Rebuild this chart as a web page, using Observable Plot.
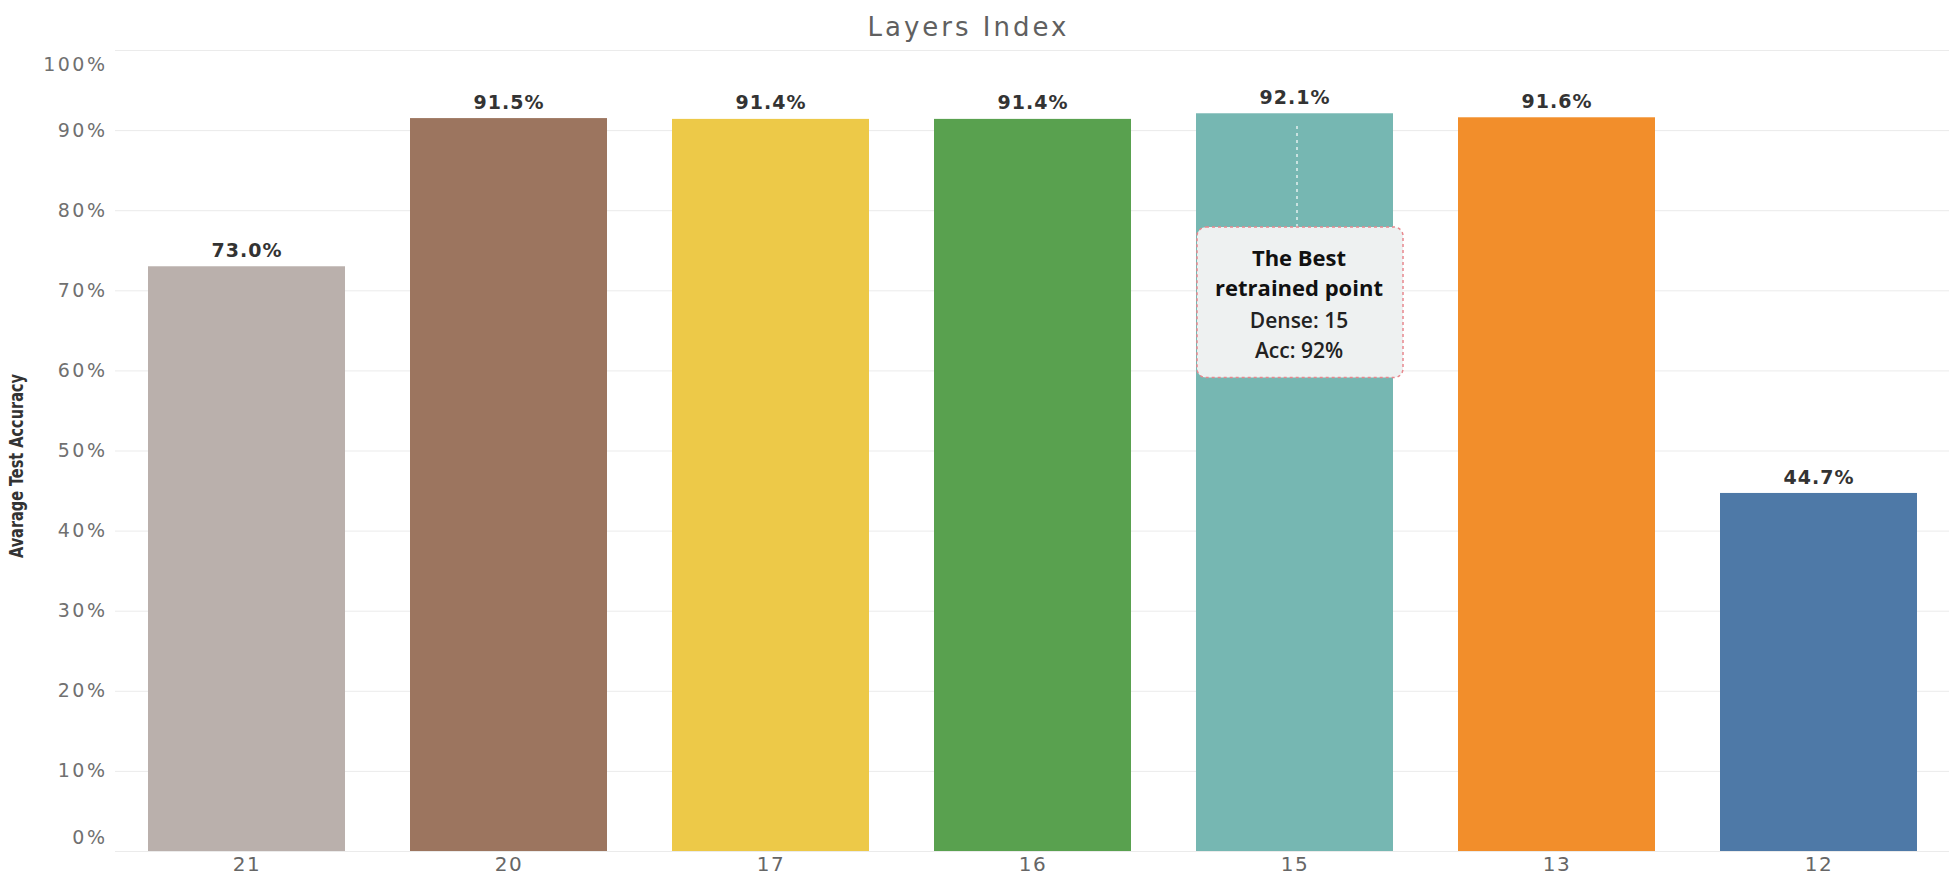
<!DOCTYPE html>
<html><head><meta charset="utf-8">
<script src="https://cdn.jsdelivr.net/npm/d3@7"></script>
<script src="https://cdn.jsdelivr.net/npm/@observablehq/plot@0.6"></script>
<style>
body{margin:0;background:#fff;}
g[aria-description="ytick"] text{letter-spacing:2.5px;}
g[aria-description="xtick"] text{letter-spacing:1.5px;}
g[aria-description="value"] text{letter-spacing:1px;}
g[aria-description="title"] text{letter-spacing:3px;}
</style></head><body><div id="chart"></div>
<script>
const layers = ["21", "20", "17", "16", "15", "13", "12"];
const accuracy = [73.0, 91.5, 91.4, 91.4, 92.1, 91.6, 44.7];
const colors = ["#bab0ac", "#9c755f", "#edc948", "#59a14f", "#76b7b2", "#f28e2b", "#4e79a7"];
const yTicks = [0, 10, 20, 30, 40, 50, 60, 70, 80, 90, 100];
const title = "Layers Index";
const yLabel = "Avarage Test Accuracy";
const bestLayer = "15";
const noteBoldLines = "The Best\nretrained point";
const noteLines = "Dense: 15\nAcc: 92%";
const noteBoxRange = [59.1, 77.9];
const leaderRange = [77.9, 90.5];
const noteBoldY = [72.4];
const noteY = [64.7];

const data = layers.map((l, i) => ({layer: l, acc: accuracy[i]}));

const chart = Plot.plot({
  width: 1950,
  height: 883,
  marginTop: 50,
  marginBottom: 32,
  marginLeft: 115,
  marginRight: 1,
  style: {fontFamily: "'DejaVu Sans', sans-serif", background: "#fff", overflow: "visible"},
  x: {domain: layers, paddingInner: 0.25, paddingOuter: 0.125, label: null, axis: null},
  y: {domain: [0, 100], label: null, axis: null},
  color: {domain: layers, range: colors},
  marks: [
    Plot.gridY(yTicks, {stroke: "#ebebeb", strokeOpacity: 1}),
    Plot.barY(data, {x: "layer", y: "acc", fill: "layer"}),
    Plot.text(data, {x: "layer", y: "acc", text: d => d.acc.toFixed(1) + "%", dy: -16, fontSize: 19, fontWeight: "bold", fill: "#333", ariaDescription: "value"}),
    Plot.ruleX([bestLayer], {x: d => d, y1: leaderRange[0], y2: leaderRange[1], stroke: "#fff", strokeWidth: 1.2, strokeDasharray: "3,4", dx: 2}),
    Plot.barY([bestLayer], {x: d => d, y1: noteBoxRange[0], y2: noteBoxRange[1], fill: "#eef1f1", stroke: "#e8888e", strokeWidth: 1.5, strokeDasharray: "3,3", rx: 9, insetLeft: 1, insetRight: -10}),
    Plot.text([bestLayer], {x: d => d, y: noteBoldY[0], text: () => noteBoldLines, fontSize: 22, fontWeight: "bold", lineHeight: 1.36, fill: "#111", fontFamily: "'Open Sans', sans-serif", dx: 4}),
    Plot.text([bestLayer], {x: d => d, y: noteY[0], text: () => noteLines, fontSize: 21, fontWeight: 600, lineHeight: 1.42, fill: "#222", fontFamily: "'Open Sans', sans-serif", dx: 4}),
    Plot.text(yTicks.filter(t => t > 0 && t < 100), {y: d => d, text: d => d + "%", frameAnchor: "left", textAnchor: "end", dx: -8, fontSize: 19, fill: "#707070", ariaDescription: "ytick"}),
    Plot.text(yTicks.filter(t => t === 100), {y: d => d, text: d => d + "%", frameAnchor: "left", textAnchor: "end", dx: -8, dy: 14, fontSize: 19, fill: "#707070", ariaDescription: "ytick"}),
    Plot.text(yTicks.filter(t => t === 0), {y: d => d, text: d => d + "%", frameAnchor: "left", textAnchor: "end", dx: -8, dy: -14, fontSize: 19, fill: "#707070", ariaDescription: "ytick"}),
    Plot.text(layers, {x: d => d, text: d => d, frameAnchor: "bottom", dy: 19, fontSize: 20, fill: "#666", ariaDescription: "xtick"}),
    Plot.text([yLabel], {text: d => d, frameAnchor: "left", textAnchor: "middle", rotate: -90, dx: -99, dy: 15, fontSize: 19, fontWeight: "bold", fill: "#333", fontFamily: "'DejaVu Sans Condensed', sans-serif", ariaDescription: "ylabel"}),
    Plot.text([title], {text: d => d, frameAnchor: "top", dy: -33, dx: -64, fontSize: 26, fill: "#606060", ariaDescription: "title"})
  ]
});
d3.select(chart).selectAll('g[aria-description="ylabel"] text')
  .attr("textLength", 184)
  .attr("lengthAdjust", "spacingAndGlyphs");
document.getElementById("chart").appendChild(chart);
</script>
</body></html>
